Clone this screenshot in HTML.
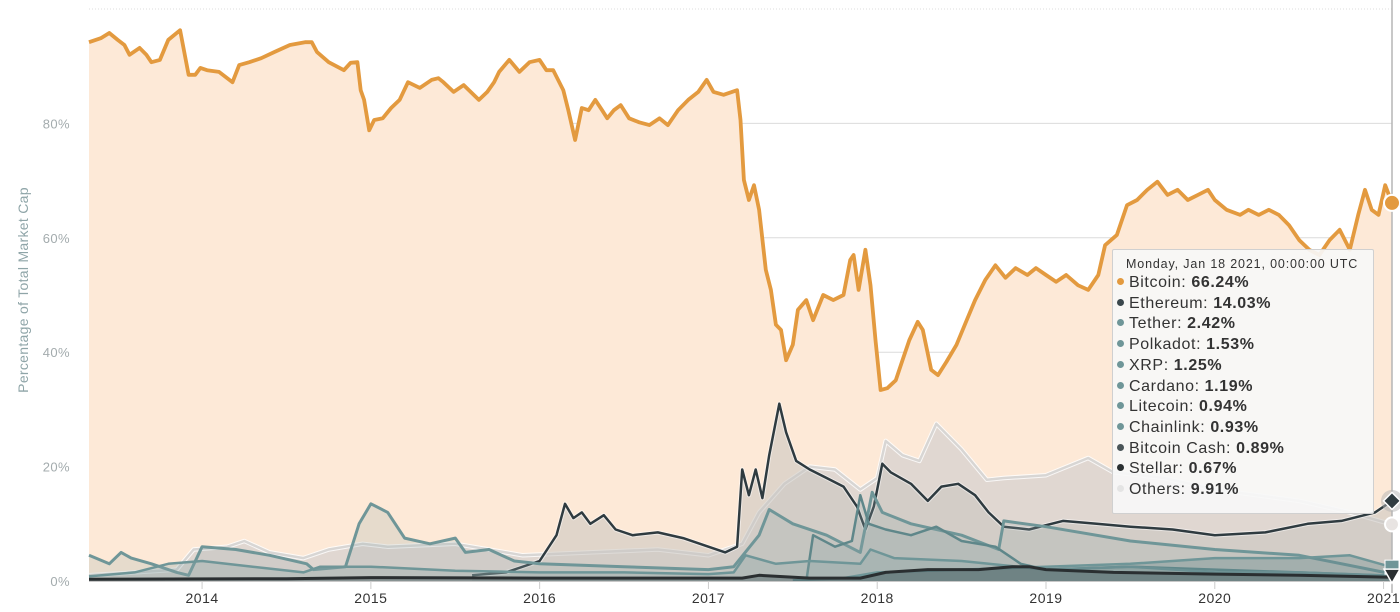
<!DOCTYPE html>
<html><head><meta charset="utf-8">
<style>
html,body{margin:0;padding:0;background:#fff;width:1400px;height:612px;overflow:hidden;font-family:"Liberation Sans",sans-serif;}
#chart{position:absolute;left:0;top:0;}
#tooltip{position:absolute;left:1112px;top:249px;width:262px;height:265px;background:rgba(247,247,247,0.92);border:1px solid #d0d0d0;box-sizing:border-box;border-radius:2px;}
#tooltip .hdr{position:absolute;left:13px;top:7px;font-size:12.5px;letter-spacing:0.85px;color:#333;white-space:nowrap;}
#tooltip .row{position:absolute;left:4px;font-size:16px;letter-spacing:0.6px;color:#333;white-space:nowrap;}
#tooltip .row b{color:#333;}
#tooltip .dot{display:inline-block;width:7px;height:7px;border-radius:50%;margin-right:5px;vertical-align:2px;}
</style></head>
<body>
<svg id="chart" width="1400" height="612"></svg>
<div id="tooltip">
  <div class="hdr">Monday, Jan 18 2021, 00:00:00 UTC</div>
  <div class="row" style="top:24px"><span class="dot" style="background:#e39a3f"></span>Bitcoin: <b>66.24%</b></div>
  <div class="row" style="top:44.7px"><span class="dot" style="background:#3a474c"></span>Ethereum: <b>14.03%</b></div>
  <div class="row" style="top:65.4px"><span class="dot" style="background:#6f9698"></span>Tether: <b>2.42%</b></div>
  <div class="row" style="top:86.1px"><span class="dot" style="background:#6f9698"></span>Polkadot: <b>1.53%</b></div>
  <div class="row" style="top:106.8px"><span class="dot" style="background:#6f9698"></span>XRP: <b>1.25%</b></div>
  <div class="row" style="top:127.5px"><span class="dot" style="background:#6f9698"></span>Cardano: <b>1.19%</b></div>
  <div class="row" style="top:148.2px"><span class="dot" style="background:#6f9698"></span>Litecoin: <b>0.94%</b></div>
  <div class="row" style="top:168.9px"><span class="dot" style="background:#6f9698"></span>Chainlink: <b>0.93%</b></div>
  <div class="row" style="top:189.6px"><span class="dot" style="background:#4a5558"></span>Bitcoin Cash: <b>0.89%</b></div>
  <div class="row" style="top:210.3px"><span class="dot" style="background:#2a2f31"></span>Stellar: <b>0.67%</b></div>
  <div class="row" style="top:231px"><span class="dot" style="background:#e4e4e4"></span>Others: <b>9.91%</b></div>
</div>
<script>
const yTicks=[0,20,40,60,80];
const yTickLabels=["0%","20%","40%","60%","80%"];
const xTicks=[2014,2015,2016,2017,2018,2019,2020,2021];
const xTickLabels=["2014","2015","2016","2017","2018","2019","2020","2021"];

const btcDates=[2013.33,2013.40,2013.45,2013.50,2013.54,2013.57,2013.63,2013.67,2013.70,2013.75,2013.80,2013.87,2013.92,2013.96,2013.99,2014.03,2014.10,2014.18,2014.22,2014.28,2014.35,2014.43,2014.52,2014.61,2014.65,2014.68,2014.75,2014.84,2014.88,2014.92,2014.94,2014.96,2014.99,2015.02,2015.07,2015.12,2015.17,2015.22,2015.29,2015.36,2015.40,2015.43,2015.49,2015.55,2015.64,2015.69,2015.73,2015.76,2015.82,2015.88,2015.94,2016.00,2016.04,2016.08,2016.14,2016.17,2016.21,2016.25,2016.29,2016.33,2016.37,2016.40,2016.44,2016.48,2016.53,2016.59,2016.65,2016.71,2016.76,2016.82,2016.88,2016.94,2016.99,2017.03,2017.09,2017.17,2017.19,2017.21,2017.24,2017.27,2017.30,2017.34,2017.37,2017.40,2017.43,2017.46,2017.50,2017.53,2017.58,2017.62,2017.68,2017.74,2017.80,2017.84,2017.86,2017.89,2017.93,2017.96,2017.99,2018.02,2018.06,2018.11,2018.15,2018.19,2018.24,2018.27,2018.32,2018.36,2018.41,2018.47,2018.53,2018.58,2018.64,2018.70,2018.76,2018.82,2018.89,2018.94,2019.00,2019.06,2019.12,2019.19,2019.25,2019.31,2019.35,2019.42,2019.48,2019.54,2019.60,2019.66,2019.72,2019.78,2019.84,2019.90,2019.96,2020.00,2020.07,2020.15,2020.20,2020.26,2020.32,2020.38,2020.44,2020.50,2020.56,2020.62,2020.68,2020.74,2020.80,2020.85,2020.89,2020.93,2020.97,2021.01,2021.05];
const btcValues=[94.2,94.9,95.8,94.6,93.7,92.0,93.2,92.0,90.7,91.1,94.6,96.3,88.5,88.5,89.7,89.3,89.0,87.2,90.2,90.7,91.4,92.5,93.7,94.2,94.2,92.5,90.7,89.3,90.6,90.7,85.8,84.1,78.8,80.6,80.9,82.7,84.1,87.2,86.2,87.6,87.9,87.2,85.5,86.7,84.1,85.5,87.2,89.0,91.1,89.0,90.7,91.1,89.3,89.3,85.8,82.3,77.1,82.7,82.3,84.1,82.3,80.9,82.3,83.2,80.9,80.2,79.7,80.9,79.7,82.3,84.1,85.5,87.6,85.5,85.0,85.8,80.6,70.1,66.6,69.2,64.9,54.4,50.9,44.8,43.9,38.6,41.3,47.4,49.1,45.6,50.0,49.1,50.0,56.1,57.0,50.9,57.9,51.7,42.1,33.4,33.7,35.1,38.6,42.1,45.3,43.9,36.9,36.0,38.3,41.3,45.6,49.1,52.6,55.2,53.0,54.7,53.5,54.7,53.5,52.3,53.5,51.7,50.9,53.5,58.7,60.5,65.7,66.6,68.4,69.8,67.5,68.4,66.6,67.5,68.4,66.6,64.9,64.0,64.9,64.0,64.9,64.0,62.2,59.6,57.9,57.0,59.6,61.4,57.9,64.0,68.4,64.9,64.0,69.2,66.1];

const othersDates=[2013.33,2013.6,2013.85,2013.95,2014.15,2014.25,2014.4,2014.6,2014.75,2014.95,2015.1,2015.5,2015.9,2016.3,2016.7,2017.0,2017.2,2017.3,2017.45,2017.6,2017.75,2017.9,2018.0,2018.05,2018.15,2018.25,2018.35,2018.5,2018.65,2018.75,2019.0,2019.25,2019.4,2019.7,2020.0,2020.5,2020.8,2021.05];
const othersValues=[1.0,1.5,2.0,5.5,6.0,7.0,5.0,4.0,5.5,6.5,6.0,6.5,4.5,5.0,5.5,4.5,6.5,12.0,17.0,20.0,19.5,16.0,18.0,24.5,22.0,21.0,27.5,23.0,17.7,18.0,18.5,21.5,19.0,18.0,16.0,14.0,12.0,9.9];

const ethDates=[2015.6,2015.8,2016.0,2016.1,2016.15,2016.2,2016.25,2016.3,2016.38,2016.45,2016.55,2016.7,2016.85,2017.0,2017.1,2017.17,2017.2,2017.24,2017.28,2017.32,2017.36,2017.42,2017.46,2017.52,2017.6,2017.7,2017.8,2017.88,2017.93,2017.98,2018.03,2018.08,2018.2,2018.3,2018.38,2018.48,2018.58,2018.66,2018.75,2018.9,2019.1,2019.3,2019.5,2019.75,2020.0,2020.3,2020.55,2020.75,2020.95,2021.05];
const ethValues=[1.0,1.5,3.5,8.0,13.5,11.0,12.0,10.0,11.5,9.0,8.0,8.5,7.5,6.0,5.0,6.0,19.5,15.0,19.5,14.5,22.0,31.0,26.0,21.0,19.5,18.0,16.5,13.0,9.0,13.0,20.5,19.0,17.0,14.0,16.5,17.0,15.0,12.0,9.5,9.0,10.5,10.0,9.5,9.0,8.0,8.5,10.0,10.5,12.0,14.0];

const xrpDates=[2013.33,2013.45,2013.52,2013.58,2013.7,2013.85,2013.92,2014.0,2014.2,2014.4,2014.62,2014.66,2014.85,2014.93,2015.0,2015.1,2015.2,2015.35,2015.5,2015.56,2015.7,2015.85,2016.0,2016.5,2017.0,2017.15,2017.3,2017.36,2017.5,2017.7,2017.9,2017.97,2018.03,2018.2,2018.5,2018.72,2018.75,2019.0,2019.5,2020.0,2020.5,2021.05];
const xrpValues=[4.5,3.0,5.0,4.0,3.0,1.5,1.0,6.0,5.5,4.5,3.0,2.0,2.5,10.0,13.5,12.0,7.5,6.5,7.5,5.0,5.5,3.5,3.0,2.5,2.0,2.5,8.0,12.5,10.0,8.0,5.0,15.5,12.0,10.0,8.0,5.5,10.5,9.5,7.0,5.5,4.5,1.25];

const ltcDates=[2013.33,2013.6,2013.8,2014.0,2014.3,2014.6,2014.7,2015.0,2015.5,2016.0,2016.5,2017.0,2017.15,2017.22,2017.4,2017.6,2017.9,2017.96,2018.1,2018.5,2019.0,2019.5,2020.0,2020.5,2021.05];
const ltcValues=[0.8,1.5,3.0,3.5,2.5,1.5,2.5,2.5,1.8,1.5,1.5,1.2,1.5,4.5,3.0,3.5,3.0,5.5,4.0,3.5,2.0,2.5,1.5,1.5,0.94];

const bchDates=[2017.58,2017.62,2017.75,2017.85,2017.9,2017.95,2018.05,2018.2,2018.35,2018.5,2018.7,2018.85,2019.0,2019.5,2020.0,2020.5,2021.05];
const bchValues=[0,8.0,6.0,7.0,15.0,10.0,9.0,8.0,9.5,7.0,6.0,3.0,2.0,2.5,2.0,1.5,0.89];

const usdtDates=[2017.5,2017.8,2018.0,2018.5,2019.0,2019.5,2020.0,2020.5,2020.8,2021.05];
const usdtValues=[0.1,0.5,1.5,2.0,2.5,3.0,4.0,4.0,4.5,2.42];

const xlmDates=[2013.33,2014.5,2015.0,2016.0,2017.0,2017.2,2017.3,2017.6,2017.9,2018.05,2018.3,2018.6,2018.8,2018.9,2019.0,2019.4,2020.0,2020.5,2021.05];
const xlmValues=[0.3,0.4,0.6,0.5,0.5,0.5,1.0,0.5,0.5,1.5,2.0,2.0,2.5,2.5,2.0,1.5,1.2,1.0,0.67];

const X0=89,X1=1392,Y0=581,Y100=9,D0=2013.33,D1=2021.05;
function xs(d){return X0+(d-D0)/(D1-D0)*(X1-X0);}
function ys(v){return Y0-v/100*(Y0-Y100);}
const NS="http://www.w3.org/2000/svg";
const svg=document.getElementById('chart');
function mk(tag,attrs,parent){const e=document.createElementNS(NS,tag);for(const k in attrs)e.setAttribute(k,attrs[k]);(parent||svg).appendChild(e);return e;}

const grid=mk('g',{});


[0,20,40,60,80,100].forEach(v=>{const l=mk('line',{x1:X0,x2:X1,y1:ys(v),y2:ys(v),stroke:'#dcdcdc','stroke-width':1,'stroke-dasharray':v==100?'1,2':''},grid);

});

function pathD(dates,vals){let n=Math.min(dates.length,vals.length);let s='';for(let i=0;i<n;i++){s+=(i?'L':'M')+xs(dates[i]).toFixed(1)+','+ys(vals[i]).toFixed(1);}return s;}
function areaD(dates,vals){let n=Math.min(dates.length,vals.length);return pathD(dates,vals)+'L'+xs(dates[n-1]).toFixed(1)+','+Y0+'L'+xs(dates[0]).toFixed(1)+','+Y0+'Z';}
function series(name,dates,vals,fill,stroke,w,halo){
  const g=mk('g',{});
  
  
  const a=mk('path',{d:areaD(dates,vals),fill:fill,stroke:'none'},g);
  
  
  if(halo){mk('path',{d:pathD(dates,vals),fill:'none',stroke:halo,'stroke-width':w+2,'stroke-linejoin':'round'},g);}
  const l=mk('path',{d:pathD(dates,vals),fill:'none',stroke:stroke,'stroke-width':w,'stroke-linejoin':'round'},g);
  
  
}
series('bitcoin',btcDates,btcValues,'#fde9d7','#e39a3f',3.8,null);
series('others',othersDates,othersValues,'rgba(218,212,208,0.85)','#d8d6d4',2.5,'rgba(255,255,255,0.8)');
series('ethereum',ethDates,ethValues,'rgba(200,196,192,0.55)','#2f3b40',2.5,'rgba(255,255,255,0.5)');
series('xrp',xrpDates,xrpValues,'rgba(150,170,170,0.22)','#6f9698',3,null);
series('bitcoin-cash',bchDates,bchValues,'rgba(140,165,165,0.25)','#5f878a',2.5,null);
series('litecoin',ltcDates,ltcValues,'rgba(140,165,165,0.3)','#6f9698',2.5,null);
series('tether',usdtDates,usdtValues,'rgba(100,135,138,0.35)','#6f9698',2.5,null);
series('stellar',xlmDates,xlmValues,'rgba(60,80,85,0.4)','#2a2f31',3,null);

const xa=mk('g',{});


mk('line',{x1:X0,x2:X1,y1:Y0+0.5,y2:Y0+0.5,stroke:'#c8c8c8','stroke-width':1},xa);
xTicks.forEach((t,i)=>{const x=xs(t);
  mk('line',{x1:x,x2:x,y1:Y0,y2:Y0+8,stroke:'#ccc','stroke-width':1},xa);
  const tx=mk('text',{x:x,y:603,'text-anchor':'middle','font-size':14,'letter-spacing':0.5,fill:'#333','font-family':'Liberation Sans, sans-serif'},xa);
  tx.textContent=xTickLabels[i];
  
  });
const ya=mk('g',{});


yTicks.forEach((t,i)=>{const tx=mk('text',{x:70,y:ys(t)+5,'text-anchor':'end','font-size':13,'letter-spacing':0.4,fill:'#a3abad','font-family':'Liberation Sans, sans-serif'},ya);
  tx.textContent=yTickLabels[i];
  
  });
const yt=mk('text',{x:0,y:0,transform:'translate(28,290) rotate(-90)','text-anchor':'middle','font-size':14,'letter-spacing':0.3,fill:'#8fa5a8','font-family':'Liberation Sans, sans-serif'});
yt.textContent='Percentage of Total Market Cap';



const xe=xs(btcDates[btcDates.length-1]);
const ch=mk('line',{x1:xe,x2:xe,y1:0,y2:Y0+12,stroke:'#b5b5b5','stroke-width':1.5});


const m1=mk('circle',{cx:xe,cy:ys(btcValues[btcValues.length-1]),r:8,fill:'#e39a3f',stroke:'#fff','stroke-width':2});


const ey=ys(ethValues[ethValues.length-1]);
mk('circle',{cx:xe,cy:ey,r:11,fill:'rgba(180,180,180,0.5)'});
const m2=mk('rect',{x:xe-6,y:ey-6,width:12,height:12,fill:'#2f3b40',stroke:'#fff','stroke-width':1.5,transform:'rotate(45 '+xe+' '+ey+')'});


const m3=mk('circle',{cx:xe,cy:ys(othersValues[othersValues.length-1]),r:7,fill:'#e8e4e2',stroke:'#fff','stroke-width':2});


const m4=mk('rect',{x:xe-7,y:ys(usdtValues[usdtValues.length-1])-7,width:14,height:14,fill:'#6f9698',stroke:'#fff','stroke-width':1});


const ty=ys(xlmValues[xlmValues.length-1]);
const m5=mk('path',{d:'M'+(xe-8)+','+(ty-8)+'L'+(xe+8)+','+(ty-8)+'L'+xe+','+(ty+6)+'Z',fill:'#2a2f31',stroke:'#fff','stroke-width':1.5});


</script>
</body></html>
